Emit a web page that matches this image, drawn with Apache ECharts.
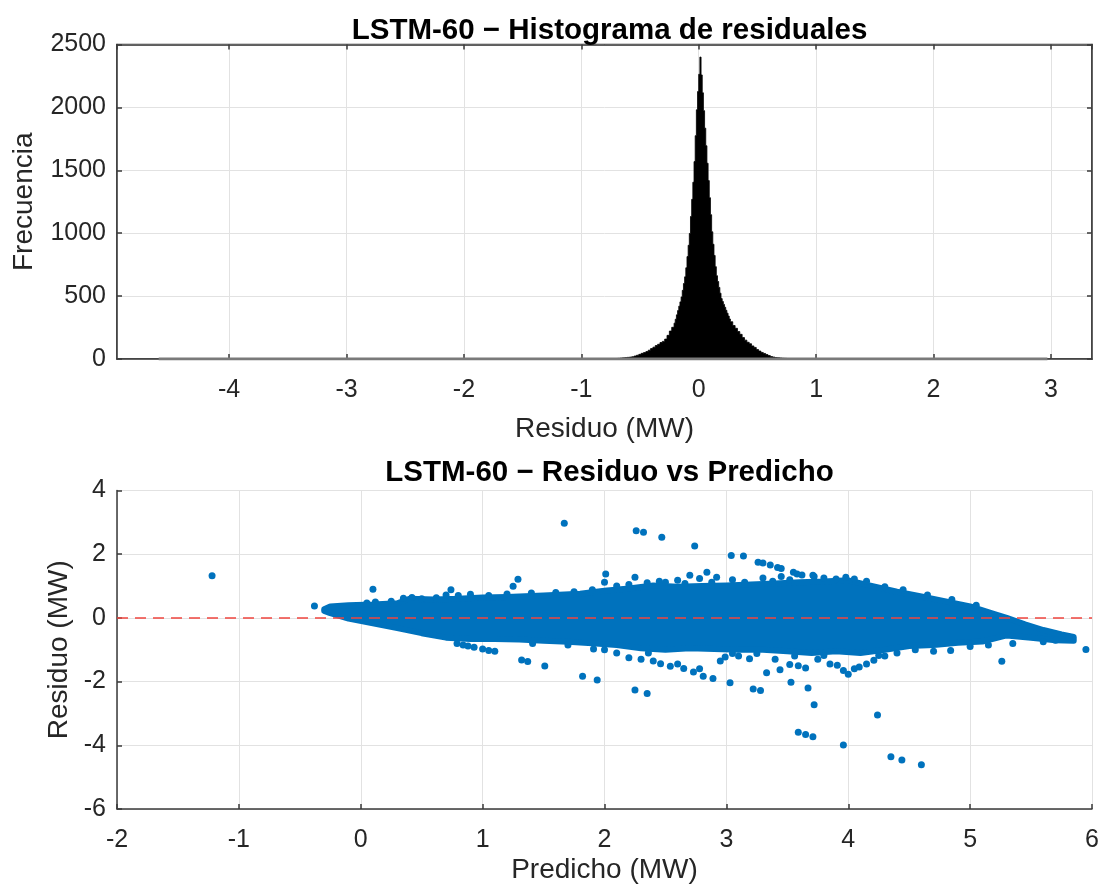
<!DOCTYPE html>
<html><head><meta charset="utf-8">
<script src="https://cdn.jsdelivr.net/npm/echarts@6/dist/echarts.min.js"></script>
<style>html,body{margin:0;padding:0;background:#fff}#c{width:1104px;height:893px}</style>
</head><body><div id="c"></div>
<script>
// ---------- Histogram (top) ----------
const histTitle = 'LSTM-60 \u2212 Histograma de residuales';
const histXName = 'Residuo (MW)';
const histYName = 'Frecuencia';
const histXRange = [-4.955, 3.35];
const histYRange = [0, 2500];
const histYStep = 500;
const histBinEdges = [
 -0.81,-0.79,-0.77,-0.75,-0.73,-0.71,-0.69,-0.67,-0.65,-0.63,-0.61,-0.59,-0.57,-0.55,-0.53,-0.51,
 -0.49,-0.47,-0.45,-0.43,-0.41,-0.39,-0.37,-0.35,-0.33,-0.31,-0.29,-0.27,-0.25,-0.23,-0.21,
 -0.20,-0.19,-0.18,-0.17,-0.16,-0.15,-0.14,-0.13,-0.12,-0.11,-0.10,-0.09,-0.08,-0.07,-0.06,-0.05,
 -0.04,-0.03,-0.02,-0.01,0.00,0.01,0.02,0.03,0.04,0.05,0.06,0.07,0.08,0.09,0.10,0.11,0.12,0.13,
 0.14,0.15,0.16,0.17,0.18,0.19,0.20,0.21,0.22,0.23,0.24,0.25,0.26,0.27,
 0.29,0.31,0.33,0.35,0.37,0.39,0.41,0.43,0.45,0.47,0.49,0.51,0.53,0.55,0.57,0.59,0.61,0.63,0.65,
 0.67,0.69,0.71,0.73,0.75,0.77,0.79,0.81,0.83,0.85,0.87];
const histCounts = [
 1,2,2,3,3,4,5,7,9,11,13,15,18,24,30,37,45,51,59,70,83,94,107,117,131,140,158,188,222,252,
 285,316,351,385,420,454,493,546,600,653,725,814,904,998,1133,1269,1405,1569,1775,1981,2126,2263,
 2400,
 2258,2116,1974,1835,1695,1556,1418,1282,1147,1011,912,823,734,662,616,569,523,480,457,434,411,387,364,341,318,
 296,266,244,218,196,170,150,133,121,104,92,75,63,52,44,35,27,19,15,12,10,8,6,5,4,3,3,2,2,1];
const histTailRange = [-4.6, 2.97];   // extent of the near-empty outer bins

// ---------- Residual vs predicted (bottom) ----------
const scatTitle = 'LSTM-60 \u2212 Residuo vs Predicho';
const scatXName = 'Predicho (MW)';
const scatYName = 'Residuo (MW)';
const scatXRange = [-2, 6];
const scatYRange = [-6, 4];
const scatXStep = 1;
const scatYStep = 2;
// outline of the dense point cloud (upper edge left->right, lower edge right->left)
const cloudUpper = [
 [-0.30,0.27],[-0.25,0.36],[-0.10,0.40],[0.10,0.42],[0.30,0.46],[0.40,0.60],[0.60,0.58],
 [0.80,0.60],[1.00,0.64],[1.20,0.66],[1.50,0.70],[1.80,0.76],[2.00,0.85],[2.20,0.92],
 [2.40,1.02],[2.60,0.98],[2.80,1.00],[3.00,1.02],[3.20,1.05],[3.40,1.08],[3.60,1.12],
 [3.80,1.14],[4.00,1.18],[4.20,1.00],[4.40,0.82],[4.60,0.67],[4.80,0.52],[5.00,0.36],
 [5.20,0.12],[5.30,0.00],[5.45,-0.20],[5.60,-0.38],[5.75,-0.52],[5.85,-0.60]];
const cloudLower = [
 [5.85,-0.72],[5.70,-0.70],[5.50,-0.62],[5.30,-0.55],[5.10,-0.74],[4.90,-0.78],[4.70,-0.85],
 [4.50,-0.88],[4.30,-1.00],[4.10,-1.10],[3.90,-1.05],[3.70,-1.10],[3.50,-1.05],[3.30,-1.00],
 [3.10,-1.00],[2.90,-0.98],[2.70,-0.95],[2.50,-1.00],[2.30,-0.95],[2.10,-0.85],[1.90,-0.80],
 [1.70,-0.75],[1.50,-0.72],[1.30,-0.68],[1.10,-0.66],[0.90,-0.66],[0.70,-0.62],[0.50,-0.48],
 [0.30,-0.32],[0.10,-0.17],[-0.10,-0.02],[-0.25,0.15],[-0.30,0.22]];
// individual points visible around / outside the cloud
const edgePoints = [
 [0.05,0.47],[0.12,0.50],[0.25,0.52],[0.35,0.62],[0.42,0.64],[0.50,0.60],[0.62,0.63],[0.70,0.72],
 [0.80,0.70],[0.90,0.74],[1.05,0.70],[1.20,0.75],[1.40,0.78],[1.60,0.80],[1.75,0.82],[1.90,0.88],
 [2.00,1.12],[2.10,1.00],[2.20,1.05],[2.35,1.10],[2.45,1.15],[2.50,1.12],[2.60,1.18],[2.66,1.08],
 [2.78,1.24],[2.88,1.12],[2.92,1.28],[3.05,1.20],[3.15,1.12],[3.30,1.25],[3.38,1.15],[3.45,1.30],
 [3.52,1.20],[3.62,1.35],[3.72,1.30],[3.80,1.25],[3.90,1.22],[3.98,1.28],[4.05,1.22],[4.15,1.15],
 [4.30,0.98],[4.45,0.88],[4.65,0.72],[4.85,0.58],[5.05,0.40],
 [0.79,-0.80],[0.84,-0.85],[0.88,-0.88],[0.93,-0.92],[1.00,-0.98],[1.05,-1.02],[1.10,-1.05],
 [1.41,-0.80],[1.70,-0.85],[1.91,-0.98],[2.00,-1.00],[2.10,-1.10],[2.20,-1.25],[2.30,-1.30],
 [2.36,-1.10],[2.40,-1.35],[2.46,-1.44],[2.54,-1.52],[2.60,-1.45],[2.65,-1.59],[2.73,-1.70],
 [2.78,-1.60],[2.81,-1.83],[2.89,-1.90],[2.95,-1.35],[2.99,-1.23],[3.05,-1.12],[3.10,-1.20],
 [3.19,-1.28],[3.25,-1.12],[3.33,-1.72],[3.40,-1.30],[3.44,-1.63],[3.52,-1.46],[3.56,-1.20],
 [3.59,-1.50],[3.65,-1.57],[3.75,-1.30],[3.80,-1.18],[3.85,-1.45],[3.91,-1.49],[3.96,-1.65],
 [4.00,-1.77],[4.05,-1.60],[4.09,-1.54],[4.15,-1.45],[4.21,-1.33],[4.25,-1.18],[4.30,-1.20],
 [4.40,-1.10],[4.55,-1.00],[4.70,-1.05],[4.84,-1.02],[5.00,-0.90],[5.15,-0.85],[5.35,-0.80],
 [5.60,-0.75],[5.70,-0.70],[5.81,-0.60]];
const outlierPoints = [
 [-1.22,1.32],[-0.38,0.37],[0.10,0.90],[0.74,0.88],[1.25,0.99],[1.29,1.21],[1.67,2.97],
 [2.01,1.38],[2.25,1.28],[2.26,2.74],[2.32,2.69],[2.47,2.53],[2.70,1.34],[2.74,2.26],[2.84,1.43],
 [3.04,1.96],[3.14,1.94],[3.26,1.75],[3.30,1.72],[3.36,1.66],[3.42,1.58],[3.45,1.55],[3.55,1.43],
 [3.58,1.38],[3.71,1.34],
 [1.32,-1.32],[1.37,-1.37],[1.51,-1.51],[1.82,-1.83],[1.94,-1.95],[2.25,-2.26],[2.35,-2.37],
 [3.03,-2.04],[3.22,-2.23],[3.28,-2.28],[3.53,-2.02],[3.67,-2.20],[3.72,-2.73],[4.24,-3.05],
 [3.59,-3.59],[3.65,-3.66],[3.71,-3.73],[3.96,-3.99],[4.35,-4.36],[4.44,-4.46],[4.60,-4.61],
 [5.26,-1.36],[5.95,-0.99]];

// ---------- styles ----------
const FONT = "'Liberation Sans', Arial, Helvetica, sans-serif";
const AX = '#3a3a3a';
const GRIDC = '#e2e2e2';
const BLUE = '#0072BD';
const tickFont = {fontFamily: FONT, fontSize: 25, color: '#262626', formatter: v => String(v)};
const nameFont = {fontFamily: FONT, fontSize: 28, color: '#262626'};

function baseAxis(extra) {
  return Object.assign({
    type: 'value',
    axisLine: {show: true, onZero: false, lineStyle: {color: AX, width: 1.5}},
    axisTick: {show: true, inside: true, length: 5, lineStyle: {color: AX, width: 1.5}},
    splitLine: {show: true, lineStyle: {color: GRIDC, width: 1}},
    nameTextStyle: nameFont,
    nameLocation: 'middle'
  }, extra);
}

const chart = echarts.init(document.getElementById('c'), null, {renderer: 'canvas'});
const option = {
  animation: false,
  backgroundColor: '#fff',
  title: [
    {text: histTitle, left: 604.5, top: 11, textAlign: 'center',
     textStyle: {fontFamily: FONT, fontSize: 29.5, fontWeight: 'bold', color: '#000'}},
    {text: scatTitle, left: 604.5, top: 453, textAlign: 'center',
     textStyle: {fontFamily: FONT, fontSize: 29.5, fontWeight: 'bold', color: '#000'}}
  ],
  grid: [
    {left: 117, right: 12, top: 44.5, bottom: 534, show: true, borderColor: AX, borderWidth: 1.5, containLabel: false},
    {left: 117, right: 12, top: 490.5, bottom: 84, containLabel: false}
  ],
  xAxis: [
    baseAxis({gridIndex: 0, min: histXRange[0], max: histXRange[1], minInterval: 1, maxInterval: 1,
      name: histXName, nameGap: 56,
      axisLabel: Object.assign({margin: 19, showMinLabel: false, showMaxLabel: false}, tickFont)}),
    baseAxis({gridIndex: 1, min: scatXRange[0], max: scatXRange[1], interval: scatXStep,
      name: scatXName, nameGap: 47,
      axisLabel: Object.assign({margin: 19}, tickFont)}),
    baseAxis({gridIndex: 0, position: 'top', min: histXRange[0], max: histXRange[1], minInterval: 1, maxInterval: 1,
      axisLabel: {show: false}, splitLine: {show: false}})
  ],
  yAxis: [
    baseAxis({gridIndex: 0, min: histYRange[0], max: histYRange[1], interval: histYStep,
      name: histYName, nameGap: 79,
      axisLabel: Object.assign({margin: 11}, tickFont)}),
    baseAxis({gridIndex: 1, min: scatYRange[0], max: scatYRange[1], interval: scatYStep,
      name: scatYName, nameGap: 43,
      axisLabel: Object.assign({margin: 11}, tickFont)}),
    baseAxis({gridIndex: 0, position: 'right', min: histYRange[0], max: histYRange[1], interval: histYStep,
      axisLabel: {show: false}, splitLine: {show: false}})
  ],
  series: [
    {
      type: 'line', xAxisIndex: 0, yAxisIndex: 0, silent: true, symbol: 'none',
      data: [[histTailRange[0], 0], [histTailRange[1], 0]],
      lineStyle: {color: '#7a7a7a', width: 3}
    },
    {
      // histogram drawn as one stepped outline so adjacent bins leave no seams
      type: 'custom', xAxisIndex: 0, yAxisIndex: 0, silent: true,
      data: [0],
      renderItem: function (params, api) {
        const pts = [api.coord([histBinEdges[0], 0])];
        histCounts.forEach((c, i) => {
          pts.push(api.coord([histBinEdges[i], c]));
          pts.push(api.coord([histBinEdges[i + 1], c]));
        });
        pts.push(api.coord([histBinEdges[histBinEdges.length - 1], 0]));
        return {type: 'polygon', shape: {points: pts}, style: {fill: '#000', stroke: '#000', lineWidth: 0.8}};
      }
    },
    {
      type: 'custom', xAxisIndex: 1, yAxisIndex: 1, silent: true,
      data: [0],
      renderItem: function (params, api) {
        const pts = cloudUpper.concat(cloudLower).map(p => api.coord(p));
        return {type: 'polygon', shape: {points: pts}, style: {fill: BLUE, stroke: BLUE, lineWidth: 6, lineJoin: 'round'}};
      }
    },
    {
      type: 'scatter', xAxisIndex: 1, yAxisIndex: 1, silent: true,
      symbolSize: 7, itemStyle: {color: BLUE, opacity: 1},
      data: edgePoints.concat(outlierPoints),
      markLine: {
        silent: true, symbol: 'none', animation: false,
        label: {show: false},
        lineStyle: {color: '#f0453f', type: [11, 7], width: 1.5, opacity: 1},
        data: [{yAxis: 0}]
      }
    }
  ]
};
chart.setOption(option);
</script>
</body></html>
